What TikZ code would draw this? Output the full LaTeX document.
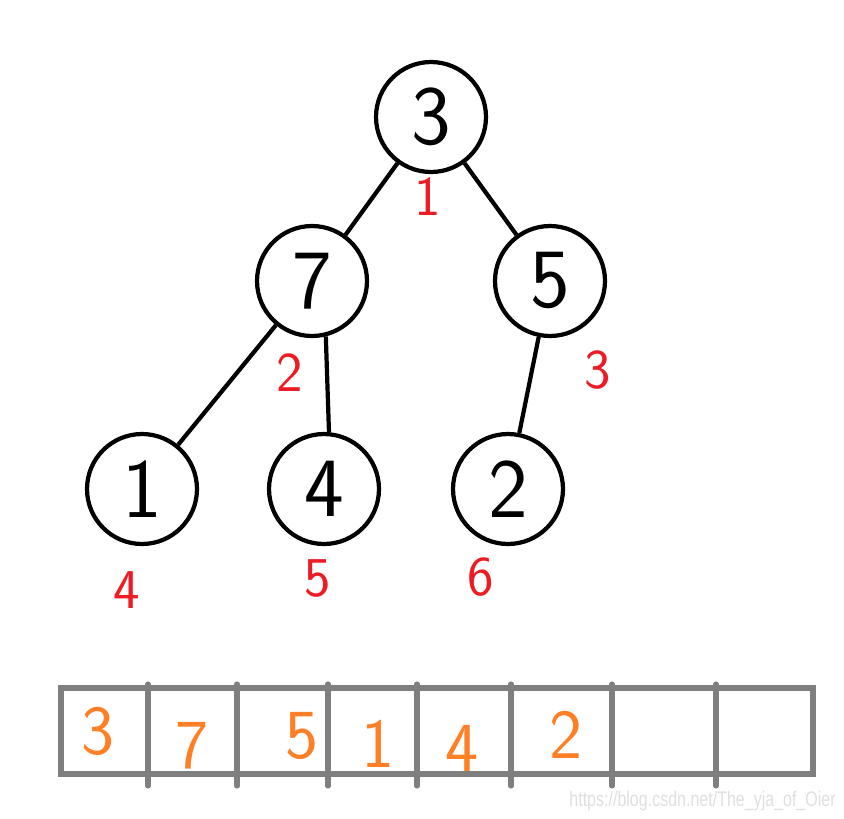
\documentclass[tikz,border=0pt]{standalone}
\usepackage{tikz}
\usepackage{xcolor}
\usepackage{fontspec}
\newfontfamily\markfont{Liberation Sans}
\usetikzlibrary{shapes.geometric, positioning, arrows}
\definecolor{paintred}{RGB}{237,28,36}
\definecolor{paintorange}{RGB}{255,127,39}
\definecolor{cellgray}{RGB}{127,127,127}

\begin{document}
\begin{tikzpicture}[x=0.02cm, y=-0.02cm,
  vertex/.style={circle, draw, line width=2.4pt, minimum size=2.2cm, inner sep=0pt,
    font=\sffamily\fontsize{48}{48}\selectfont},
  edge/.style={line width=2.4pt},
  idx/.style={text=paintred, inner sep=0pt, font=\sffamily\fontsize{32}{32}\selectfont},
  val/.style={text=paintorange, inner sep=0pt, font=\sffamily\fontsize{40}{40}\selectfont},
  gridline/.style={cellgray, line width=2.9pt}]
  \useasboundingbox (0,0) rectangle (844,818);
  % the heap
  \node[vertex] (v3) at (431,117) {3};
  \node[vertex] (v7) at (312,281) {7};
  \node[vertex] (v5) at (550,281) {5};
  \node[vertex] (v1) at (142,489) {1};
  \node[vertex] (v4) at (324,489) {4};
  \node[vertex] (v2) at (508,489) {2};
  \draw[edge] (v3) -- (v7);
  \draw[edge] (v3) -- (v5);
  \draw[edge] (v7) -- (v1);
  \draw[edge] (v7.-76) -- (v4.85);
  \draw[edge] (v5) -- (v2);
  % positions in the array
  \node[idx] (i1) at (428,197) {1};
  \node[idx] (i2) at (290,373) {2};
  \node[idx] (i3) at (598,370) {3};
  \node[idx] (i4) at (127,590) {4};
  \node[idx] (i5) at (318,578) {5};
  \node[idx] (i6) at (481,577) {6};
  % the array
  \draw[gridline] (61,688) rectangle (813,774);
  \foreach \x in {148,237,328,417,511,612,716}
    \draw[gridline, line cap=round] (\x,684) -- (\x,786);
  \node[val] (a1) at (98,731) {3};
  \node[val] (a2) at (192,746) {7};
  \node[val] (a3) at (302,736) {5};
  \node[val] (a4) at (378,744) {1};
  \node[val] (a5) at (462,748) {4};
  \node[val] (a6) at (566,735) {2};
  \node[text=gray!25, inner sep=0pt, xscale=0.76, anchor=east,
    font=\markfont\fontsize{12}{12}\selectfont] (mark) at (836,801)
    {https://blog.csdn.net/The\_yja\_of\_Oier};
\end{tikzpicture}
\end{document}
